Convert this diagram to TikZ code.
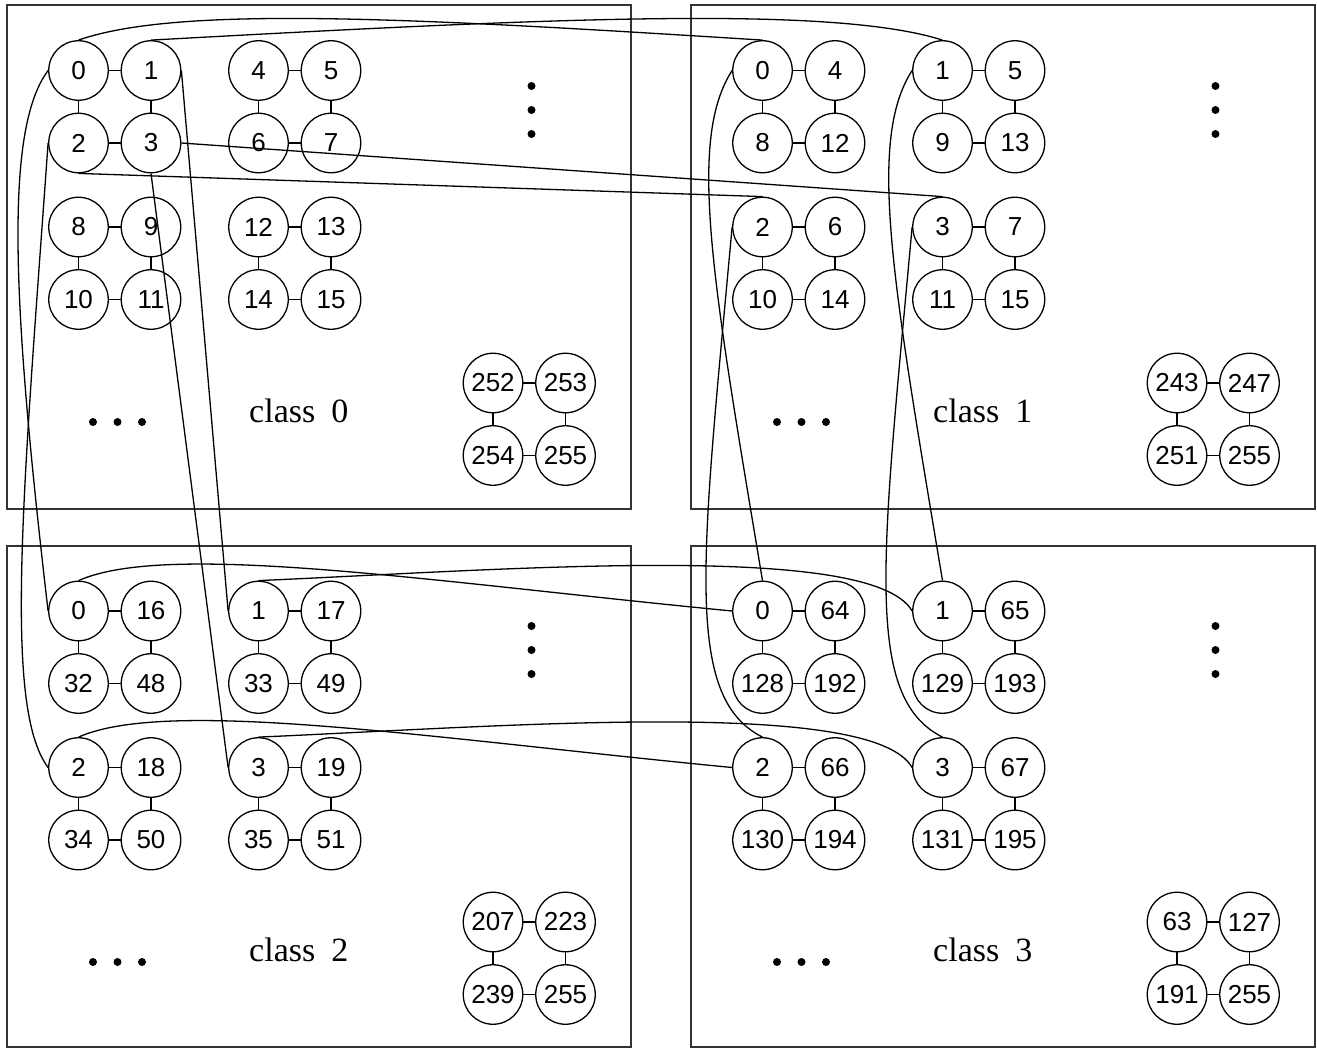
\documentclass[tikz,border=0pt]{standalone}
\usepackage{fontspec}
\setmainfont{Liberation Serif}
\newfontfamily\digitfont{Liberation Sans}
\tikzset{
  vtx/.style={circle, draw, line width=1.3pt, minimum size=59.5pt, inner sep=0pt,
              font=\digitfont\fontsize{26}{31}\selectfont},
  tie/.style={line width=1.3pt},
  link/.style={line width=1.3pt},
  frame/.style={line width=1.8pt, draw=black!80},
  classlabel/.style={anchor=base west, inner sep=0pt, font=\fontsize{34}{41}\selectfont},
}
% a 2x2 block of vertices: class, x, y of the upper left centre, four labels
\newcommand{\vquad}[7]{%
  \node[vtx] (k#1n#4) at (#2,#3) {#4};
  \node[vtx] (k#1n#5) at (#2+72.5,#3) {#5};
  \node[vtx] (k#1n#6) at (#2,#3+72.5) {#6};
  \node[vtx] (k#1n#7) at (#2+72.5,#3+72.5) {#7};
  \draw[tie] (k#1n#4) -- (k#1n#5);
  \draw[tie] (k#1n#6) -- (k#1n#7);
  \draw[tie] (k#1n#4) -- (k#1n#6);
  \draw[tie] (k#1n#5) -- (k#1n#7);
}
% three dots in a row and three in a column
\newcommand{\hdots}[2]{\foreach \i in {0,1,2} \fill (#1+24.5*\i,#2) circle[radius=4pt];}
\newcommand{\vdotsat}[2]{\foreach \i in {0,1,2} \fill (#1,#2+24*\i) circle[radius=4pt];}
\begin{document}
\begin{tikzpicture}[x=1pt,y=-1pt]
\useasboundingbox (0,0) rectangle (1317,1049);

% class frames
\draw[frame] (7,5) rectangle (631,509);
\draw[frame] (691,5) rectangle (1315,509);
\draw[frame] (7,546) rectangle (631,1047);
\draw[frame] (691,546) rectangle (1315,1047);

% class 0
\vquad{0}{78.5}{70.5}{0}{1}{2}{3}
\vquad{0}{258.5}{70.5}{4}{5}{6}{7}
\vquad{0}{78.5}{227}{8}{9}{10}{11}
\vquad{0}{258.5}{227}{12}{13}{14}{15}
\vquad{0}{493}{383}{252}{253}{254}{255}
\vdotsat{531.5}{86}
\hdots{93}{422}
\node[classlabel] (lab0) at (249,422) {class\hspace{16pt}0};

% class 1
\vquad{1}{762.5}{70.5}{0}{4}{8}{12}
\vquad{1}{942.5}{70.5}{1}{5}{9}{13}
\vquad{1}{762.5}{227}{2}{6}{10}{14}
\vquad{1}{942.5}{227}{3}{7}{11}{15}
\vquad{1}{1177}{383}{243}{247}{251}{255}
\vdotsat{1215.5}{86}
\hdots{777}{422}
\node[classlabel] (lab1) at (933,422) {class\hspace{16pt}1};

% class 2
\vquad{2}{78.5}{611}{0}{16}{32}{48}
\vquad{2}{258.5}{611}{1}{17}{33}{49}
\vquad{2}{78.5}{767.5}{2}{18}{34}{50}
\vquad{2}{258.5}{767.5}{3}{19}{35}{51}
\vquad{2}{493}{922}{207}{223}{239}{255}
\vdotsat{531.5}{626}
\hdots{93}{962}
\node[classlabel] (lab2) at (249,961) {class\hspace{16pt}2};

% class 3
\vquad{3}{762.5}{611}{0}{64}{128}{192}
\vquad{3}{942.5}{611}{1}{65}{129}{193}
\vquad{3}{762.5}{767.5}{2}{66}{130}{194}
\vquad{3}{942.5}{767.5}{3}{67}{131}{195}
\vquad{3}{1177}{922}{63}{127}{191}{255}
\vdotsat{1215.5}{626}
\hdots{777}{962}
\node[classlabel] (lab3) at (933,961) {class\hspace{16pt}3};

% class 0 -- class 1
\draw[link] (k0n0.north) .. controls +(100,-35) and +(-350,-22) .. (k1n0.north);
\draw[link] (k0n1.north) .. controls +(400,-22) and +(-110,-35) .. (k1n1.north);
\draw[link] (k0n2.south) -- (k1n2.north);
\draw[link] (k0n3.east) -- (k1n3.north);

% class 0 -- class 2
\draw[link] (k0n0.west) .. controls +(-45,60) and +(-35,-300) .. (k2n0.west);
\draw[link] (k0n2.west) .. controls +(-25,350) and +(-45,-60) .. (k2n2.west);
\draw[link] (k0n1.east) -- (k2n1.west);
\draw[link] (k0n3.south) -- (k2n3.west);

% class 1 -- class 3
\draw[link] (k1n0.west) .. controls +(-45,70) and +(-50,-300) .. (k3n0.north);
\draw[link] (k1n1.west) .. controls +(-45,70) and +(-50,-300) .. (k3n1.north);
\draw[link] (k1n2.west) .. controls +(-30,330) and +(-80,-40) .. (k3n2.north);
\draw[link] (k1n3.west) .. controls +(-30,330) and +(-80,-40) .. (k3n3.north);

% class 2 -- class 3
\draw[link] (k2n0.north) .. controls +(90,-40) and +(-300,-29) .. (k3n0.west);
\draw[link] (k2n1.north) .. controls +(250,-11) and +(-40,-70) .. (k3n1.west);
\draw[link] (k2n2.north) .. controls +(90,-40) and +(-300,-29) .. (k3n2.west);
\draw[link] (k2n3.north) .. controls +(250,-11) and +(-40,-70) .. (k3n3.west);
\end{tikzpicture}
\end{document}
